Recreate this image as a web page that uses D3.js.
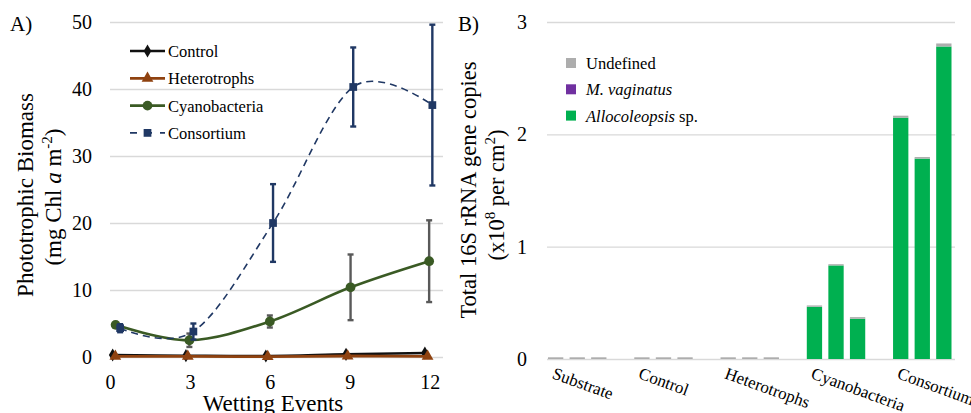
<!doctype html>
<html lang="en">
<head>
<meta charset="utf-8">
<title>Biomass and 16S copies</title>
<script src="https://cdn.jsdelivr.net/npm/d3@7"></script>
<style>
  body { margin: 0; background: #fff; }
  svg { font-family: "Liberation Serif", "Times New Roman", serif; }
  .grid line { stroke: #d9d9d9; stroke-width: 1.3; }
  .grid .domain { display: none; }
  .grid text { font-size: 20px; fill: #000; }
</style>
</head>
<body>
<div id="chart"></div>
<script>
// ---- panel A data ----
var wettingTicks = [0, 3, 6, 9, 12];

var controlX = [0.1, 2.85, 5.85, 8.86, 11.82];
var controlY = [0.3, 0.2, 0.15, 0.4, 0.6];

var heteroX = [0.2, 2.92, 5.92, 8.92, 11.92];
var heteroY = [0.1, 0.1, 0.05, 0.15, 0.1];

var cyanoX = [0.21, 2.98, 6.0, 9.03, 11.98];
var cyanoY = [4.8, 2.5, 5.3, 10.4, 14.3];
var cyanoSd = [0.3, 1.0, 0.9, 4.9, 6.1];

var consortX = [0.38, 3.13, 6.12, 9.13, 12.1];
var consortY = [4.3, 3.8, 20.0, 40.3, 37.6];
var consortSd = [0.6, 1.2, 5.8, 5.9, 12.0];

// ---- panel B data ----
var treatments = ["Substrate", "Control", "Heterotrophs", "Cyanobacteria", "Consortium"];
var alloco = [0, 0, 0, 0, 0, 0, 0, 0, 0, 0.465, 0.833, 0.358, 2.148, 1.784, 2.782];
var vaginatus = [0, 0, 0, 0, 0, 0, 0, 0, 0, 0, 0, 0, 0, 0, 0];
var undefinedCopies = [0.015, 0.015, 0.015, 0.015, 0.015, 0.015, 0.015, 0.015, 0.015, 0.012, 0.011, 0.015, 0.018, 0.014, 0.027];

var W = 971, H = 413;
var serif = "'Liberation Serif', 'Times New Roman', serif";
var svg = d3.select("#chart").append("svg")
    .attr("width", W)
    .attr("height", H);

// ================= Panel A =================
var ax = d3.scaleLinear().domain([0, 12.5]).range([110, 443]);
var ay = d3.scaleLinear().domain([0, 50]).range([357, 22]);

var gA = svg.append("g");

gA.append("g")
    .attr("class", "grid")
    .attr("transform", "translate(110,0)")
    .call(d3.axisLeft(ay).tickValues([0, 10, 20, 30, 40, 50]).tickSize(-333).tickPadding(18))
    .attr("font-family", serif);

gA.append("g")
    .attr("class", "grid xa")
    .attr("transform", "translate(0,357)")
    .call(d3.axisBottom(ax).tickValues(wettingTicks).tickSize(0).tickPadding(18))
    .attr("font-family", serif);

gA.append("text")
    .attr("x", 10).attr("y", 31)
    .attr("font-size", 21)
    .text("A)");

gA.append("text")
    .attr("transform", "translate(33,195) rotate(-90)")
    .attr("text-anchor", "middle")
    .attr("font-size", 23)
    .text("Phototrophic Biomass");

var t2 = gA.append("text")
    .attr("transform", "translate(61,197) rotate(-90)")
    .attr("text-anchor", "middle")
    .attr("font-size", 23);
t2.append("tspan").text("(mg Chl ");
t2.append("tspan").attr("font-style", "italic").text("a");
t2.append("tspan").text(" m");
t2.append("tspan").attr("font-size", 15).attr("dy", -9).text("-2");
t2.append("tspan").attr("dy", 9).text(")");

gA.append("text")
    .attr("x", 273).attr("y", 411)
    .attr("text-anchor", "middle")
    .attr("font-size", 23)
    .text("Wetting Events");

var series = [
  { name: "Control", xs: controlX, ys: controlY, color: "#111111", width: 2.5, dash: null, shape: d3.symbolDiamond, size: 50 },
  { name: "Heterotrophs", xs: heteroX, ys: heteroY, color: "#8f4210", width: 2.8, dash: null, shape: d3.symbolTriangle, size: 60 },
  { name: "Cyanobacteria", xs: cyanoX, ys: cyanoY, sd: cyanoSd, err: "#595959", color: "#3a5a24", width: 2.6, dash: null, shape: d3.symbolCircle, size: 75 },
  { name: "Consortium", xs: consortX, ys: consortY, sd: consortSd, err: "#203864", color: "#203864", width: 1.6, dash: "7,5", shape: d3.symbolSquare, size: 60 }
];

var line = d3.line()
    .x(function (d) { return ax(d[0]); })
    .y(function (d) { return ay(d[1]); })
    .curve(d3.curveCatmullRom.alpha(0));

series.forEach(function (s) {
  var pts = s.xs.map(function (x, i) { return [x, s.ys[i]]; });
  var g = gA.append("g");
  if (s.sd) {
    pts.forEach(function (p, i) {
      var x = ax(p[0]), lo = ay(p[1] - s.sd[i]), hi = ay(p[1] + s.sd[i]);
      g.append("line").attr("x1", x).attr("x2", x).attr("y1", lo).attr("y2", hi)
          .attr("stroke", s.err).attr("stroke-width", 2.4);
      [lo, hi].forEach(function (yy) {
        g.append("line").attr("x1", x - 3).attr("x2", x + 3).attr("y1", yy).attr("y2", yy)
            .attr("stroke", s.err).attr("stroke-width", 2.4);
      });
    });
  }
  g.append("path")
      .attr("d", line(pts))
      .attr("fill", "none")
      .attr("stroke", s.color)
      .attr("stroke-width", s.width)
      .attr("stroke-dasharray", s.dash);
  g.selectAll(".m")
      .data(pts)
      .enter()
      .append("path")
      .attr("transform", function (d) { return "translate(" + ax(d[0]) + "," + ay(d[1]) + ")"; })
      .attr("d", d3.symbol().type(s.shape).size(s.size))
      .attr("fill", s.color);
});

// legend A
var legA = gA.append("g");
series.forEach(function (s, i) {
  var y = 51 + i * 27.3;
  legA.append("line")
      .attr("x1", 130).attr("x2", 165).attr("y1", y).attr("y2", y)
      .attr("stroke", s.color).attr("stroke-width", s.width)
      .attr("stroke-dasharray", s.dash ? "7,8" : null);
  legA.append("path")
      .attr("transform", "translate(147.5," + y + ")")
      .attr("d", d3.symbol().type(s.shape).size(s.size))
      .attr("fill", s.color);
  legA.append("text")
      .attr("x", 168).attr("y", y + 6)
      .attr("font-size", 16.5)
      .text(s.name);
});

// ================= Panel B =================
var by = d3.scaleLinear().domain([0, 3]).range([359, 22]);
var bx = d3.scaleBand()
    .domain(d3.range(19))
    .range([548, 951.5])
    .paddingInner(0.29)
    .paddingOuter(0);

var gB = svg.append("g");

gB.append("g")
    .attr("class", "grid")
    .attr("transform", "translate(547,0)")
    .call(d3.axisLeft(by).tickValues([0, 1, 2, 3]).tickFormat(d3.format("d")).tickSize(-408).tickPadding(20))
    .attr("font-family", serif);

gB.append("text")
    .attr("x", 458).attr("y", 31)
    .attr("font-size", 21)
    .text("B)");

gB.append("text")
    .attr("transform", "translate(476,190) rotate(-90)")
    .attr("text-anchor", "middle")
    .attr("font-size", 22.5)
    .text("Total 16S rRNA gene copies");

var t3 = gB.append("text")
    .attr("transform", "translate(504,195) rotate(-90)")
    .attr("text-anchor", "middle")
    .attr("font-size", 22.5);
t3.append("tspan").text("(x10");
t3.append("tspan").attr("font-size", 15).attr("dy", -9).text("8");
t3.append("tspan").attr("dy", 9).text(" per cm");
t3.append("tspan").attr("font-size", 15).attr("dy", -9).text("2");
t3.append("tspan").attr("dy", 9).text(")");

// bar slots: 3 replicates per treatment, one empty slot between treatments
var bars = alloco.map(function (a, i) {
  return { slot: Math.floor(i / 3) * 4 + (i % 3), alloco: a, vaginatus: vaginatus[i], undef: undefinedCopies[i] };
});

var stack = d3.stack().keys(["alloco", "vaginatus", "undef"]);
var barColors = { alloco: "#00b050", vaginatus: "#7030a0", undef: "#adadad" };

gB.selectAll(".layer")
    .data(stack(bars))
    .enter()
    .append("g")
    .attr("fill", function (d) { return barColors[d.key]; })
    .selectAll("rect")
    .data(function (d) { return d; })
    .enter()
    .append("rect")
    .attr("x", function (d) { return bx(d.data.slot); })
    .attr("width", bx.bandwidth())
    .attr("y", function (d) { return by(d[1]); })
    .attr("height", function (d) { return by(d[0]) - by(d[1]); });

// category labels
treatments.forEach(function (t, i) {
  var cx = bx(i * 4 + 1) + bx.bandwidth() / 2;
  gB.append("text")
      .attr("transform", "translate(" + (cx - 26) + ",378) rotate(20)")
      .attr("font-size", 17)
      .text(t);
});

// legend B
var legB = [
  { key: "undef", parts: [["Undefined", "normal"]] },
  { key: "vaginatus", parts: [["M. vaginatus", "italic"]] },
  { key: "alloco", parts: [["Allocoleopsis", "italic"], [" sp.", "normal"]] }
];
legB.forEach(function (l, i) {
  var y = 63 + i * 26.3;
  gB.append("rect")
      .attr("x", 566).attr("y", y - 5).attr("width", 10).attr("height", 10)
      .attr("fill", barColors[l.key]);
  var tx = gB.append("text").attr("x", 586).attr("y", y + 6).attr("font-size", 16.5);
  l.parts.forEach(function (p) {
    tx.append("tspan").attr("font-style", p[1]).text(p[0]);
  });
});
</script>
</body>
</html>
